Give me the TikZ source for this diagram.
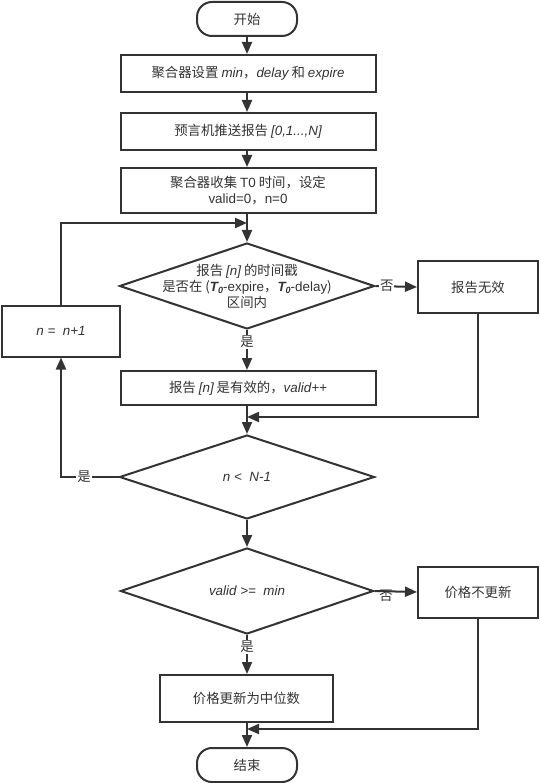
\documentclass[tikz,border=0pt]{standalone}
\usepackage{fontspec}
\setmainfont{Noto Sans CJK SC}
\newfontfamily\lat{Liberation Sans}
\usetikzlibrary{shapes.geometric,arrows.meta,positioning}
\definecolor{lc}{HTML}{333333}
\definecolor{tc}{HTML}{333333}
\newcommand{\li}[1]{{\lat\itshape #1}}
\newcommand{\Tz}{{\lat\bfseries\itshape T\raisebox{-0.35ex}{\fontsize{9}{9}\selectfont 0}}}
\tikzset{
  base/.style={draw=lc, line width=2pt, text=tc, font=\fontsize{13.4}{16.5}\selectfont, inner sep=0pt, align=center},
  proc/.style={base, rectangle},
  term/.style={base, rectangle, rounded corners=15pt},
  dec/.style={base, diamond},
  txt/.style={text=tc, font=\fontsize{13.4}{16}\selectfont, align=center, inner sep=0pt},
  lbl/.style={text=tc, font=\fontsize{13.4}{14}\selectfont, fill=white, inner sep=1pt},
  arr/.style={draw=lc, line width=2pt, -{Triangle[length=12pt,width=10pt]}},
  ln/.style={draw=lc, line width=2pt},
}
\begin{document}
\begin{tikzpicture}[x=1pt,y=-1pt]
\useasboundingbox (0,0) rectangle (539,783);
\node[term, minimum width=100pt, minimum height=34pt] (start) at (247,19) {开始};
\node[proc, minimum width=255pt, minimum height=37pt] (b1) at (248,73.5) {聚合器设置 \li{min}，\li{delay} 和 \li{expire}};
\node[proc, minimum width=255pt, minimum height=37pt] (b2) at (248,131.5) {预言机推送报告 \li{[0,1...,N]}};
\node[proc, minimum width=255pt, minimum height=45pt] (b3) at (248,190.5) {聚合器收集 {\lat T0} 时间，设定\\{\lat valid=0}，{\lat n=0}};
\node[dec, minimum width=255pt, minimum height=86pt] (d1) at (247,286) {};
\node[txt] at (d1) {报告 \li{[n]} 的时间戳\\是否在 ({\Tz}{\lat -expire}，{\Tz}{\lat -delay})\\区间内};
\node[proc, minimum width=120pt, minimum height=51pt] (inv) at (478,287) {报告无效};
\node[proc, minimum width=255pt, minimum height=34pt] (vb) at (248,388) {报告 \li{[n]} 是有效的，\li{valid++}};
\node[proc, minimum width=118pt, minimum height=51pt] (inc) at (61,331) {\li{n =\ \ n+1}};
\node[dec, minimum width=255pt, minimum height=84pt] (d2) at (247,477) {};
\node[txt] at (d2) {\li{n <\ \ N-1}};
\node[dec, minimum width=253pt, minimum height=86pt] (d3) at (247,591) {};
\node[txt] at (d3) {\li{valid >=\ \ min}};
\node[proc, minimum width=120pt, minimum height=51pt] (nup) at (478,592) {价格不更新};
\node[proc, minimum width=173pt, minimum height=47pt] (med) at (246.5,698.5) {价格更新为中位数};
\node[term, minimum width=100pt, minimum height=34pt] (end) at (247,765) {结束};

\coordinate (j1) at (247,223);
\coordinate (j2) at (247,417);
\coordinate (j3) at (247,729);

\draw[arr] (start) -- (b1.north -| start);
\draw[arr] (b1.south -| start) -- (b2.north -| start);
\draw[arr] (b2.south -| start) -- (b3.north -| start);
\draw[arr] (b3.south -| start) -- (d1.north);
\draw[arr] (d1.east) -- (inv.west) node[lbl, pos=0.27] {否};
\draw[arr] (d1.south) -- (vb.north -| d1) node[lbl, pos=0.3] {是};
\draw[arr] (vb.south -| d1) -- (d2.north);
\draw[arr] (inv.south) |- (j2);
\draw[arr] (d2.west) -| (inc.south) node[lbl, pos=0.3] {是};
\draw[arr] (inc.north) |- (j1);
\draw[arr] (d2.south) -- (d3.north);
\draw[arr] (d3.east) -- (nup.west) node[lbl, pos=0.27, yshift=-5pt, fill=none] {否};
\draw[arr] (d3.south) -- (med.north -| d3) node[lbl, pos=0.3] {是};
\draw[arr] (nup.south) |- (j3);
\draw[arr] (med.south -| d3) -- (end.north);
\end{tikzpicture}
\end{document}
